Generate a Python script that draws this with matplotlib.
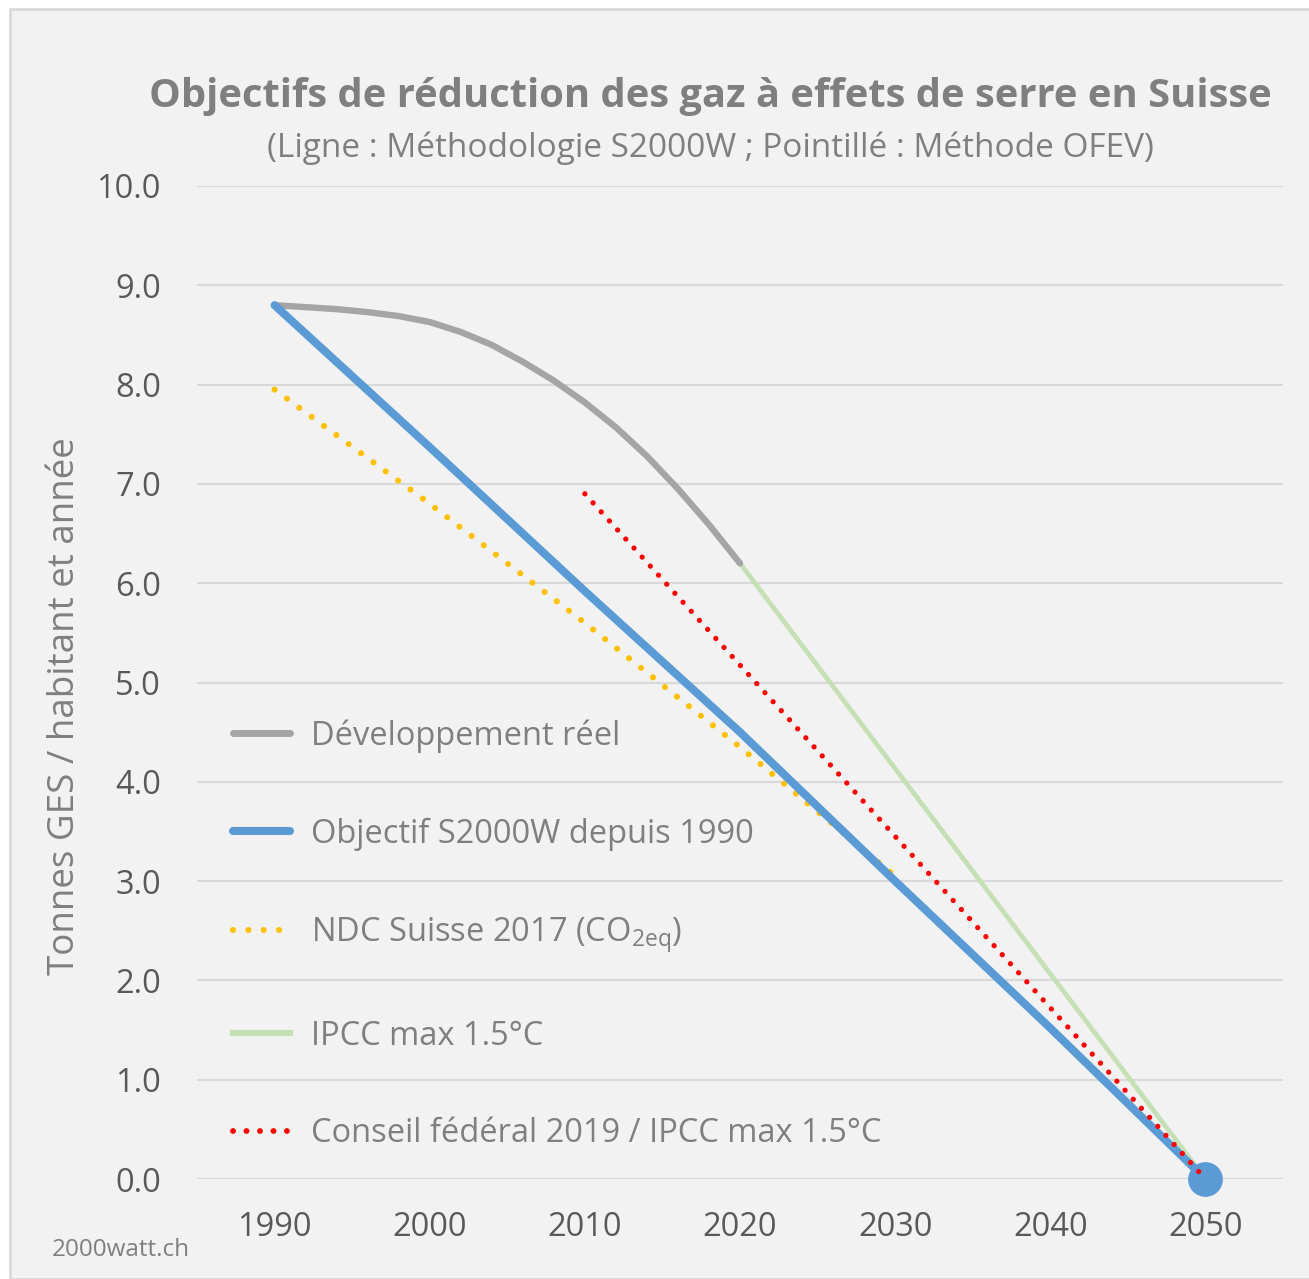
import matplotlib
matplotlib.use("Agg")
import matplotlib.pyplot as plt
from matplotlib.patches import Rectangle
from matplotlib.lines import Line2D

plt.rcParams['font.family'] = ['Open Sans', 'DejaVu Sans']
plt.rcParams['mathtext.default'] = 'regular'

# ---- data ----
years_reel = [1990, 1992, 1994, 1996, 1998, 2000, 2002, 2004, 2006, 2008,
              2010, 2012, 2014, 2016, 2018, 2020]
vals_reel = [8.80, 8.78, 8.76, 8.73, 8.69, 8.63, 8.53, 8.40, 8.23, 8.04,
             7.82, 7.57, 7.28, 6.95, 6.59, 6.20]

years_s2000w = [1990, 2000, 2010, 2020, 2030, 2040, 2050]
vals_s2000w = [8.8, 7.37, 5.92, 4.5, 3.0, 1.52, 0.0]

years_ndc = [1990, 2000, 2010, 2020, 2030]
vals_ndc = [7.95, 6.8, 5.6, 4.35, 3.05]

years_ipcc = [2020, 2050]
vals_ipcc = [6.2, 0.0]

years_cf = [2010, 2050]
vals_cf = [6.9, 0.0]

target_year = [2050]
target_val = [0.0]

labels = ["Développement réel",
          "Objectif S2000W depuis 1990",
          "NDC Suisse 2017 (CO$_{2eq}$)",
          "IPCC max 1.5°C",
          "Conseil fédéral 2019 / IPCC max 1.5°C"]

x_ticks = [1990, 2000, 2010, 2020, 2030, 2040, 2050]
y_ticks = [0, 1, 2, 3, 4, 5, 6, 7, 8, 9, 10]

c_gray = '#a5a5a5'
c_blue = '#5b9bd5'
c_yellow = '#ffc000'
c_green = '#c5e0b4'
c_red = '#ff0000'
bg = '#f2f2f2'

W, H = 1309, 1279
fig = plt.figure(figsize=(W / 100, H / 100), dpi=100)
fig.patch.set_facecolor('white')
# chart area background with border
fig.patches.append(Rectangle((10 / W, 0), 1.0, 1 - 9 / H, transform=fig.transFigure,
                             facecolor=bg, edgecolor='#d9d9d9', linewidth=2, zorder=-10))

ax = fig.add_axes([197 / W, 1 - 1179 / H, (1283 - 197) / W, (1179 - 186) / H])
ax.set_facecolor(bg)
ax.set_xlim(1985, 2055)
ax.set_ylim(0, 10)
for s in ax.spines.values():
    s.set_visible(False)
ax.set_yticks(y_ticks)
ax.set_yticklabels([f"{v:.1f}" for v in y_ticks])
ax.set_xticks(x_ticks)
ax.set_xticklabels([str(v) for v in x_ticks])
ax.tick_params(length=0, labelsize=23.5, colors='#595959')
ax.tick_params(axis='y', pad=26)
ax.tick_params(axis='x', pad=23)
ax.grid(axis='y', color='#d9d9d9', linewidth=1.6)
ax.set_axisbelow(True)

ax.plot(years_ipcc, vals_ipcc, color=c_green, lw=3.4, solid_capstyle='butt', zorder=3)
ax.plot(years_reel, vals_reel, color=c_gray, lw=4.6, solid_capstyle='round', zorder=3)
ax.plot(years_ndc, vals_ndc, color=c_yellow, lw=4.4, linestyle=(0, (0.01, 2.5)),
        dash_capstyle='round', zorder=4)
ax.plot(years_s2000w, vals_s2000w, color=c_blue, lw=5.8, solid_capstyle='round', zorder=5)
ax.plot(years_cf, vals_cf, color=c_red, lw=3.8, linestyle=(0, (0.01, 2.3)),
        dash_capstyle='round', zorder=6)
ax.plot(target_year, target_val, 'o', color=c_blue, markersize=24, clip_on=False, zorder=5)

handles = [
    Line2D([], [], color=c_gray, lw=5, solid_capstyle='round'),
    Line2D([], [], color=c_blue, lw=5.8, solid_capstyle='round'),
    Line2D([], [], color=c_yellow, lw=4.4, linestyle=(0, (0.01, 2.5)), dash_capstyle='round'),
    Line2D([], [], color=c_green, lw=4.5),
    Line2D([], [], color=c_red, lw=4.2, linestyle=(0, (0.01, 2.3)), dash_capstyle='round'),
]
leg = ax.legend(handles, labels, loc='upper left', bbox_to_anchor=(0.021, 0.476),
                frameon=False, fontsize=23.5, handlelength=1.75, handletextpad=0.65,
                labelspacing=1.98, labelcolor='#7f7f7f', borderaxespad=0)

fig.text(710 / W, 1 - 97 / H, "Objectifs de réduction des gaz à effets de serre en Suisse",
         ha='center', va='center', fontsize=28.7, fontweight='bold', color='#7f7f7f')
fig.text(710 / W, 1 - 148 / H, "(Ligne : Méthodologie S2000W ; Pointillé : Méthode OFEV)",
         ha='center', va='center', fontsize=24, color='#7f7f7f')
fig.text(65 / W, 1 - 706 / H, "Tonnes GES / habitant et année", rotation=90,
         ha='center', va='center', fontsize=26.5, color='#7f7f7f')
fig.text(52 / W, 1 - 1250 / H, "2000watt.ch", ha='left', va='center',
         fontsize=17.5, color='#7f7f7f')

fig.savefig('out.png', dpi=100, facecolor='white')
